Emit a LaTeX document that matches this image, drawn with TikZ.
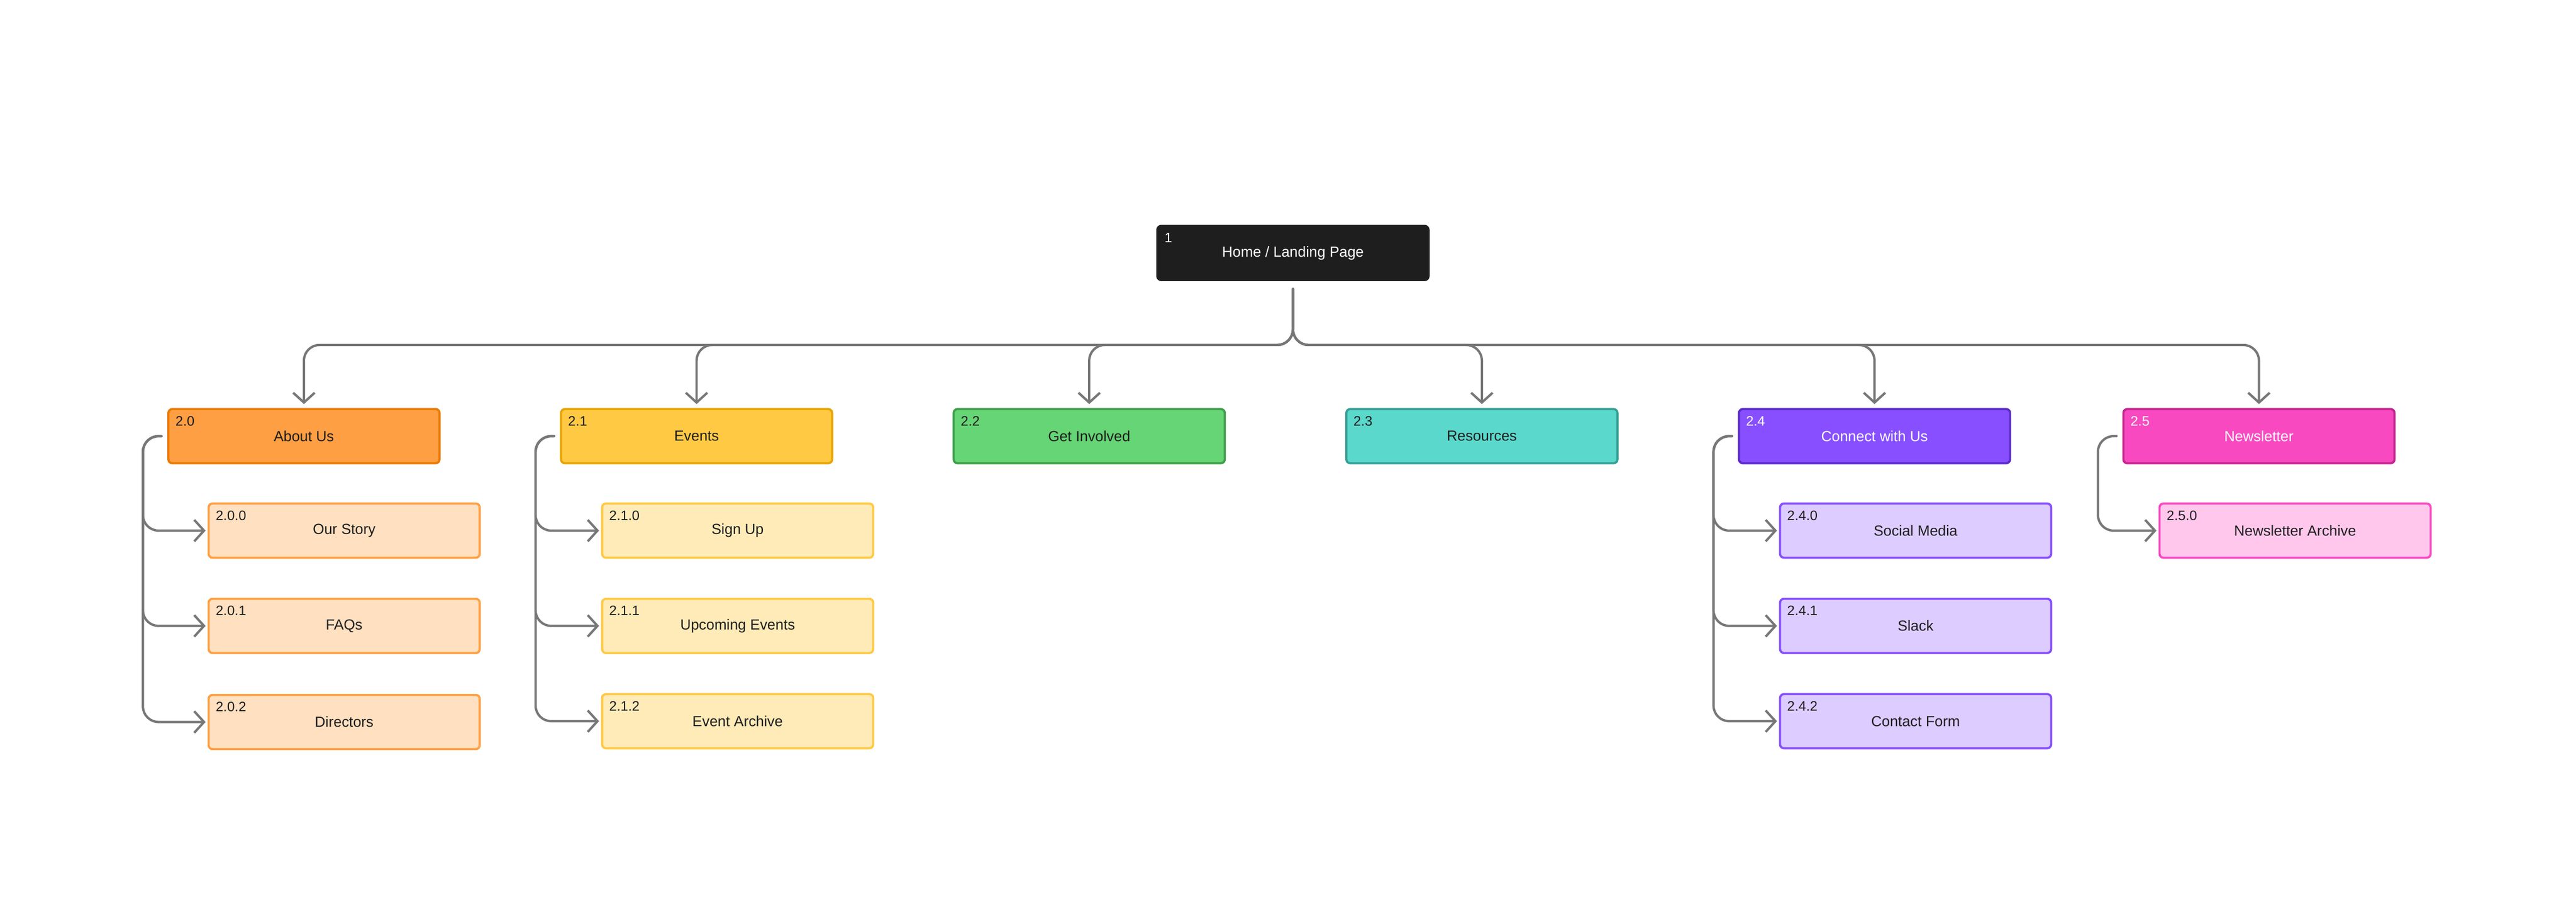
\documentclass[tikz,border=0pt]{standalone}
\usepackage{fontspec}
\setmainfont{Liberation Sans}
\usetikzlibrary{arrows.meta}
\definecolor{homef}{HTML}{1E1E1E}
\definecolor{abf}{HTML}{FF9F43}\definecolor{abd}{HTML}{EB7A00}\definecolor{abc}{HTML}{FFE0C0}
\definecolor{evf}{HTML}{FFC943}\definecolor{evd}{HTML}{E8A400}\definecolor{evc}{HTML}{FFEBB8}
\definecolor{gif}{HTML}{66D575}\definecolor{gid}{HTML}{3E9E4A}
\definecolor{ref}{HTML}{5AD8CC}\definecolor{red}{HTML}{36A095}
\definecolor{cof}{HTML}{874FFF}\definecolor{cod}{HTML}{5B2BC9}\definecolor{coc}{HTML}{DCCCFF}
\definecolor{nef}{HTML}{F849C1}\definecolor{ned}{HTML}{C4258F}\definecolor{nec}{HTML}{FFC7EC}
\definecolor{conn}{HTML}{777777}
\definecolor{txt}{HTML}{1E1E1E}
\begin{document}
\begin{tikzpicture}[x=0.029566cm,y=-0.029566cm,
  box/.style={draw, line width=1.1pt, rounded corners=2pt, minimum width=4.88cm, minimum height=0.975cm,
     inner sep=0pt, font=\fontsize{7.5}{9}\selectfont, text=txt},
  num/.style={anchor=north west, inner sep=0pt, xshift=4pt, yshift=-4pt, font=\fontsize{7}{8}\selectfont},
  conn/.style={draw=conn, line width=1.2pt, rounded corners=8pt, line cap=round,
     -{Straight Barb[length=5pt,width=11pt,line width=1.2pt]}}]
\useasboundingbox (0,0) rectangle (1568,550);
\coordinate (bus) at (0,210);
\node[box, fill=homef, draw=homef, text=white, label={[num,text=white]north west:1}] (home) at (787,154) {Home / Landing Page};
% top row
\node[box, fill=abf, draw=abd, label={[num,text=txt]north west:2.0}] (about) at (185,265.5) {About Us};
\node[box, fill=evf, draw=evd, label={[num,text=txt]north west:2.1}] (events) at (424,265.5) {Events};
\node[box, fill=gif, draw=gid, label={[num,text=txt]north west:2.2}] (inv) at (663,265.5) {Get Involved};
\node[box, fill=ref, draw=red, label={[num,text=txt]north west:2.3}] (res) at (902,265.5) {Resources};
\node[box, fill=cof, draw=cod, text=white, label={[num,text=white]north west:2.4}] (con) at (1141,265.5) {Connect with Us};
\node[box, fill=nef, draw=ned, text=white, label={[num,text=white]north west:2.5}] (news) at (1375,265.5) {Newsletter};
% children
\node[box, fill=abc, draw=abf, label={[num,text=txt]north west:2.0.0}] (a0) at (209.5,323) {Our Story};
\node[box, fill=abc, draw=abf, label={[num,text=txt]north west:2.0.1}] (a1) at (209.5,381) {FAQs};
\node[box, fill=abc, draw=abf, label={[num,text=txt]north west:2.0.2}] (a2) at (209.5,439.5) {Directors};
\node[box, fill=evc, draw=evf, label={[num,text=txt]north west:2.1.0}] (e0) at (449,323) {Sign Up};
\node[box, fill=evc, draw=evf, label={[num,text=txt]north west:2.1.1}] (e1) at (449,381) {Upcoming Events};
\node[box, fill=evc, draw=evf, label={[num,text=txt]north west:2.1.2}] (e2) at (449,439) {Event Archive};
\node[box, fill=coc, draw=cof, label={[num,text=txt]north west:2.4.0}] (c0) at (1166,323) {Social Media};
\node[box, fill=coc, draw=cof, label={[num,text=txt]north west:2.4.1}] (c1) at (1166,381) {Slack};
\node[box, fill=coc, draw=cof, label={[num,text=txt]north west:2.4.2}] (c2) at (1166,439) {Contact Form};
\node[box, fill=nec, draw=nef, label={[num,text=txt]north west:2.5.0}] (n0) at (1397,323) {Newsletter Archive};
% home to top row
\foreach \t in {about,events,inv,res,con,news}
  \draw[conn, shorten <=4pt, shorten >=2pt] (home.south) -- (home.south|-bus) -- (\t.north|-bus) -- (\t.north);
% children connectors
\foreach \p/\x/\cs in {about/87/{a0,a1,a2}, events/326/{e0,e1,e2}, con/1043/{c0,c1,c2}, news/1277/{n0}}
  \foreach \c in \cs
    \draw[conn, shorten <=3pt, shorten >=1pt] (\p.west) -- (\x,0|-\p.west) -- (\x,0|-\c.west) -- (\c.west);
\end{tikzpicture}
\end{document}
